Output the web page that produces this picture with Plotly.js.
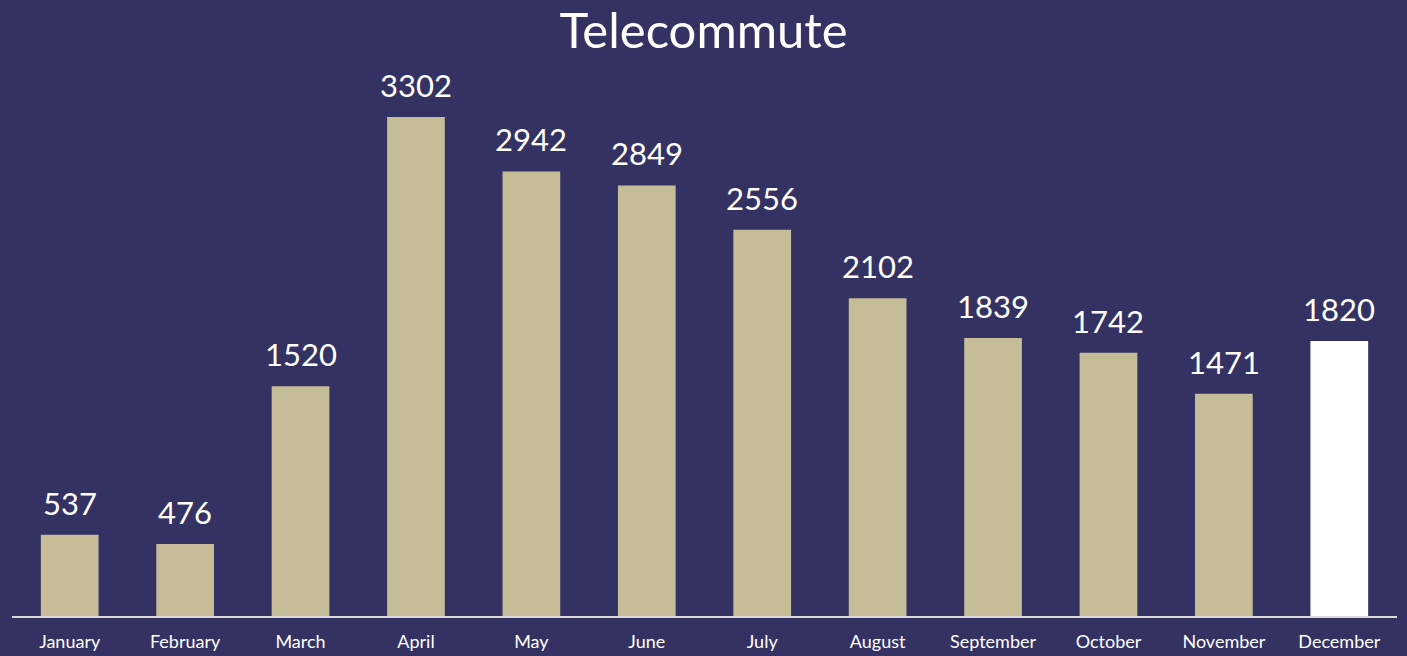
<!DOCTYPE html>
<html>
<head>
<meta charset="utf-8">
<script src="https://cdn.plot.ly/plotly-3.0.1.min.js"></script>
<style>
  html, body { margin: 0; padding: 0; background: #343263; }
  #chart { width: 1407px; height: 656px; }
</style>
</head>
<body>
<div id="chart"></div>
<script>
'use strict';

// Telecommute counts per month
const months = ['January', 'February', 'March', 'April', 'May', 'June',
                'July', 'August', 'September', 'October', 'November', 'December'];
const counts = [537, 476, 1520, 3302, 2942, 2849, 2556, 2102, 1839, 1742, 1471, 1820];
const barColors = ['#c4bd97', '#c4bd97', '#c4bd97', '#c4bd97', '#c4bd97', '#c4bd97',
                   '#c4bd97', '#c4bd97', '#c4bd97', '#c4bd97', '#c4bd97', '#ffffff'];

const FONT = 'Lato, "Open Sans", sans-serif';

// value labels float a bit above each bar
const labels = months.map((m, i) => ({
    x: m, y: counts[i], text: String(counts[i]),
    xref: 'x', yref: 'y', yanchor: 'bottom', yshift: 11, showarrow: false,
    font: { color: '#ffffff', size: 31, family: FONT }
}));

Plotly.newPlot('chart', [{
    type: 'bar', x: months, y: counts,
    marker: { color: barColors },
    hoverinfo: 'none'
}], {
    width: 1407, height: 656,
    paper_bgcolor: '#343263', plot_bgcolor: '#343263',
    margin: { l: 12, r: 10, t: 70, b: 40 },
    bargap: 0.5,
    showlegend: false,
    annotations: labels,
    title: { text: 'Telecommute', x: 0.5, xanchor: 'center', y: 0.953, yanchor: 'middle',
             font: { color: '#ffffff', size: 49, family: FONT } },
    xaxis: { showline: true, linecolor: '#d9d9d9', linewidth: 2, ticks: '', showgrid: false,
             ticklabelstandoff: 8,
             tickfont: { color: '#ffffff', size: 18, family: FONT } },
    yaxis: { range: [0, 3613], visible: false, showgrid: false, zeroline: false }
}, { displayModeBar: false, staticPlot: true });
</script>
</body>
</html>
